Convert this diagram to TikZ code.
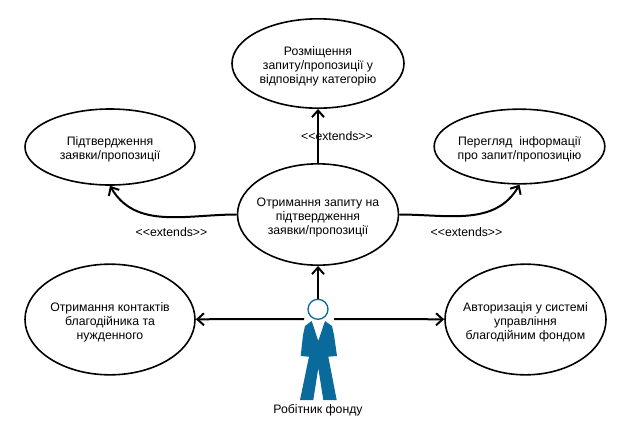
\documentclass[tikz,border=0pt]{standalone}
\usepackage{fontspec}
\setmainfont{Liberation Sans}
\usepackage{tikz}
\usetikzlibrary{arrows.meta,shapes.geometric}
\definecolor{suit}{HTML}{0B6A9C}
\newcommand{\lowered}{\rule{0pt}{10.5pt}}

\begin{document}
\begin{tikzpicture}[x=0.75pt,y=-0.75pt]
	\tikzstyle{usecase}=[ellipse,draw=black,line width=1.2pt,inner xsep=-8pt,inner ysep=-4pt,align=center,font=\fontsize{9.2}{10.5}\selectfont]
	\tikzstyle{caption}=[inner sep=0pt,align=center,font=\fontsize{9.2}{12}\selectfont]
	\tikzstyle{link}=[line width=1.5pt,-{Straight Barb[length=5pt,width=9pt]}]
	\useasboundingbox (0,0) rectangle (629,436);
	\node[usecase,minimum width=129pt,minimum height=67pt] (place) at (318,63.5) {\lowered Розміщення\\запиту/пропозиції у\\відповідну категорію};
	\node[usecase,minimum width=127.5pt,minimum height=57pt] (confirm) at (110,147) {\lowered Підтвердження\\заявки/пропозиції};
	\node[usecase,minimum width=128pt,minimum height=56pt] (view) at (519.5,146.5) {\lowered Перегляд\ \ інформації\\про запит/пропозицію};
	\node[usecase,minimum width=120.75pt,minimum height=76pt] (receive) at (318,214.5) {\lowered Отримання запиту на\\підтвердження\\заявки/пропозиції};
	\node[usecase,minimum width=127.5pt,minimum height=83pt] (contacts) at (110,319.5) {\lowered Отримання контактів\\благодійника та\\нужденного};
	\node[usecase,minimum width=120.75pt,minimum height=83pt] (auth) at (525.5,319.5) {\lowered Авторизація у системі\\управління\\благодійним фондом};
	\node[circle,draw=suit,line width=1pt,minimum size=15pt,inner sep=0pt] (head) at (318,309.3) {};
	\fill[suit] (311.7,321) -- (318.3,341) -- (325,321) -- (332,326) -- (334,335) -- (337,356) -- (328.3,356.7) -- (336.7,400) -- (323.3,400) -- (318.3,368) -- (313.3,400) -- (300,400) -- (309,356.7) -- (300.7,356) -- (303,335) -- (305,326) -- cycle;
	\coordinate (handl) at (304,319);
	\coordinate (handr) at (334,319);
	\node[caption] (worker) at (318,410) {Робітник фонду};
	\node[caption] (ext1) at (337,136) {{<}{<}extends{>}{>}};
	\node[caption] (ext2) at (171.5,232) {{<}{<}extends{>}{>}};
	\node[caption] (ext3) at (466.5,232) {{<}{<}extends{>}{>}};
	\draw[link] (head) -- (receive);
	\draw[link] (handl) -- (contacts);
	\draw[link] (handr) -- (auth);
	\draw[link] (receive) -- (place);
	\draw[link] (receive.west) to[out=180,in=-60] (confirm.south);
	\draw[link] (receive.east) to[out=0,in=-120] (view.south);
\end{tikzpicture}
\end{document}
